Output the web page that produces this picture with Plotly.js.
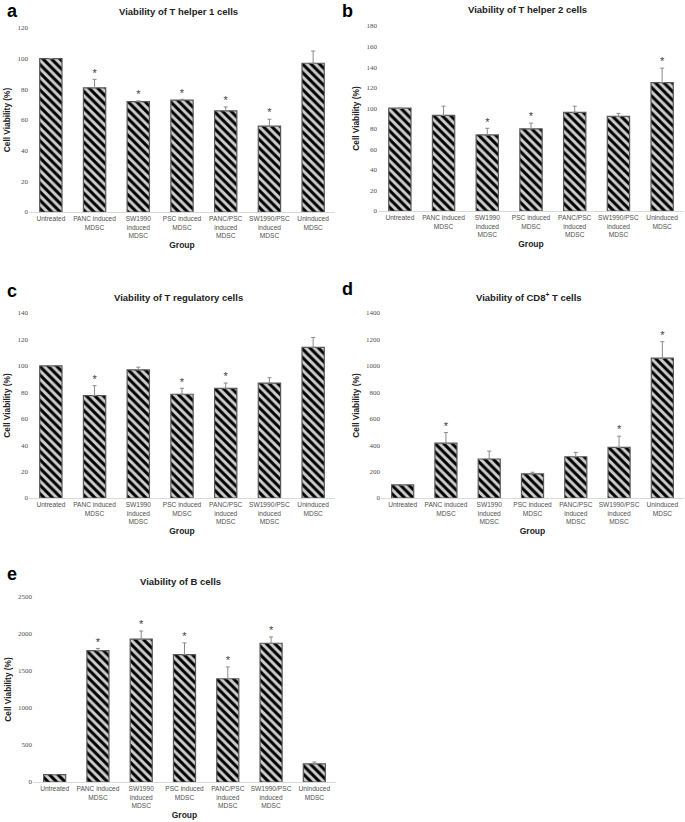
<!DOCTYPE html>
<html>
<head>
<meta charset="utf-8">
<script src="https://cdn.plot.ly/plotly-3.0.1.min.js"></script>
<style>
  html, body { margin: 0; padding: 0; background: #fff; }
  #chart { width: 685px; height: 822px; }
</style>
</head>
<body>
<div id="chart"></div>
<script>
// Groups on the x axis (same for every panel)
const groups = [
    'Untreated',
    'PANC induced<br>MDSC',
    'SW1990<br>induced<br>MDSC',
    'PSC induced<br>MDSC',
    'PANC/PSC<br>induced<br>MDSC',
    'SW1990/PSC<br>induced<br>MDSC',
    'Uninduced<br>MDSC'
];

// a - T helper 1
const th1Mean = [100, 81, 72, 73, 66, 56, 97];
const th1Err = [0, 5.5, 0.5, 0.5, 2.5, 4.5, 8];
const th1Sig = [false, true, true, true, true, true, false];

// b - T helper 2
const th2Mean = [100, 93, 74, 80, 96, 92, 125];
const th2Err = [0, 9, 6.5, 5.5, 6, 3, 14];
const th2Sig = [false, false, true, true, false, false, true];

// c - T regulatory
const tregMean = [100, 77.5, 97, 78.5, 83, 87, 114];
const tregErr = [0, 7.5, 2, 4.5, 4, 4, 7.5];
const tregSig = [false, true, false, true, true, false, false];

// d - CD8+ T
const cd8Mean = [100, 415, 295, 183, 312, 383, 1058];
const cd8Err = [0, 80, 60, 12, 33, 85, 125];
const cd8Sig = [false, true, false, false, false, true, true];

// e - B cells
const bMean = [100, 1775, 1930, 1720, 1395, 1875, 245];
const bErr = [0, 30, 110, 160, 160, 85, 25];
const bSig = [false, true, true, true, true, true, false];

const panels = [
    { tag: 'a', title: 'Viability of T helper 1 cells', mean: th1Mean, err: th1Err, sig: th1Sig, max: 120, step: 20 },
    { tag: 'b', title: 'Viability of T helper 2 cells', mean: th2Mean, err: th2Err, sig: th2Sig, max: 180, step: 20 },
    { tag: 'c', title: 'Viability of T regulatory cells', mean: tregMean, err: tregErr, sig: tregSig, max: 140, step: 20 },
    { tag: 'd', title: 'Viability of CD8<sup>+</sup> T cells', mean: cd8Mean, err: cd8Err, sig: cd8Sig, max: 1400, step: 200 },
    { tag: 'e', title: 'Viability of B cells', mean: bMean, err: bErr, sig: bSig, max: 2500, step: 500 }
];

// plot boxes in pixels: [left, right, top, bottom]
const boxes = [
    [29, 335, 28, 212],
    [378, 684, 26, 211],
    [29, 335, 313, 498],
    [381, 684, 313, 498],
    [33, 336, 597, 782]
];
// where the panel letters sit: [left, top] in pixels
const letterPos = [[6, 0], [341, 0], [6, 280], [341, 278], [6, 563]];

const W = 685, H = 822;

let data = [];
let layout = {
    width: W,
    height: H,
    margin: { l: 0, r: 0, t: 0, b: 0 },
    paper_bgcolor: '#fff',
    plot_bgcolor: '#fff',
    showlegend: false,
    bargap: 0.49,
    annotations: []
};

panels.forEach((p, i) => {
    const n = i === 0 ? '' : String(i + 1);
    const xa = 'x' + n, ya = 'y' + n;
    const box = boxes[i];

    data.push({
        type: 'bar',
        x: groups,
        y: p.mean,
        xaxis: xa,
        yaxis: ya,
        marker: {
            color: '#cdcdcd',
            line: { color: '#5a5a5a', width: 1.2 },
            pattern: { shape: '\\', fgcolor: '#000', bgcolor: '#cdcdcd', size: 6, solidity: 0.5 }
        },
        error_y: {
            type: 'data',
            symmetric: false,
            array: p.err,
            arrayminus: p.err.map(() => 0),
            color: '#8a8a8a',
            thickness: 1,
            width: 2
        },
        hoverinfo: 'skip'
    });

    // significance asterisks sit on top of the error bars
    data.push({
        type: 'scatter',
        mode: 'text',
        x: groups,
        y: p.mean.map((m, k) => m + p.err[k]),
        text: p.sig.map(s => s ? '*' : ' '),
        textposition: 'top center',
        textfont: { family: 'Liberation Sans, Arial', size: 11, color: '#404040' },
        xaxis: xa,
        yaxis: ya,
        cliponaxis: false,
        hoverinfo: 'skip'
    });

    layout['xaxis' + n] = {
        domain: [box[0] / W, box[1] / W],
        anchor: ya,
        showline: true,
        linecolor: '#d9d9d9',
        linewidth: 1,
        ticks: '',
        showgrid: false,
        zeroline: false,
        tickfont: { family: 'Liberation Sans, Arial', size: 6.6, color: '#505050' },
        tickangle: 0,
        title: { text: 'Group', font: { family: 'Liberation Sans, Arial', size: 8.5, color: '#222', weight: 'bold' }, standoff: 3 },
        automargin: false
    };
    layout['yaxis' + n] = {
        domain: [1 - box[3] / H, 1 - box[2] / H],
        anchor: xa,
        range: [0, p.max],
        dtick: p.step,
        tick0: 0,
        showline: false,
        showgrid: false,
        zeroline: false,
        ticks: '',
        tickfont: { family: 'Liberation Serif, Times New Roman', size: 7, color: '#505050' },
        title: { text: 'Cell Viability (%)', font: { family: 'Liberation Sans, Arial', size: 8.3, color: '#222', weight: 'bold' }, standoff: 5 },
        automargin: false
    };

    // subplot title
    layout.annotations.push({
        text: '<b>' + p.title + '</b>',
        xref: 'paper', yref: 'paper',
        x: ((box[0] + box[1]) / 2 - 4) / W,
        y: 1 - (box[2] - 16) / H,
        xanchor: 'center', yanchor: 'middle',
        showarrow: false,
        font: { family: 'Liberation Sans, Arial', size: 9.5, color: '#222' }
    });

    // panel letter
    layout.annotations.push({
        text: '<b>' + p.tag + '</b>',
        xref: 'paper', yref: 'paper',
        x: letterPos[i][0] / W,
        y: 1 - letterPos[i][1] / H,
        xanchor: 'left', yanchor: 'top',
        borderpad: 0,
        showarrow: false,
        font: { family: 'Liberation Sans, Arial', size: 18, color: '#000' }
    });
});

Plotly.newPlot('chart', data, layout, { staticPlot: true });
</script>
</body>
</html>
